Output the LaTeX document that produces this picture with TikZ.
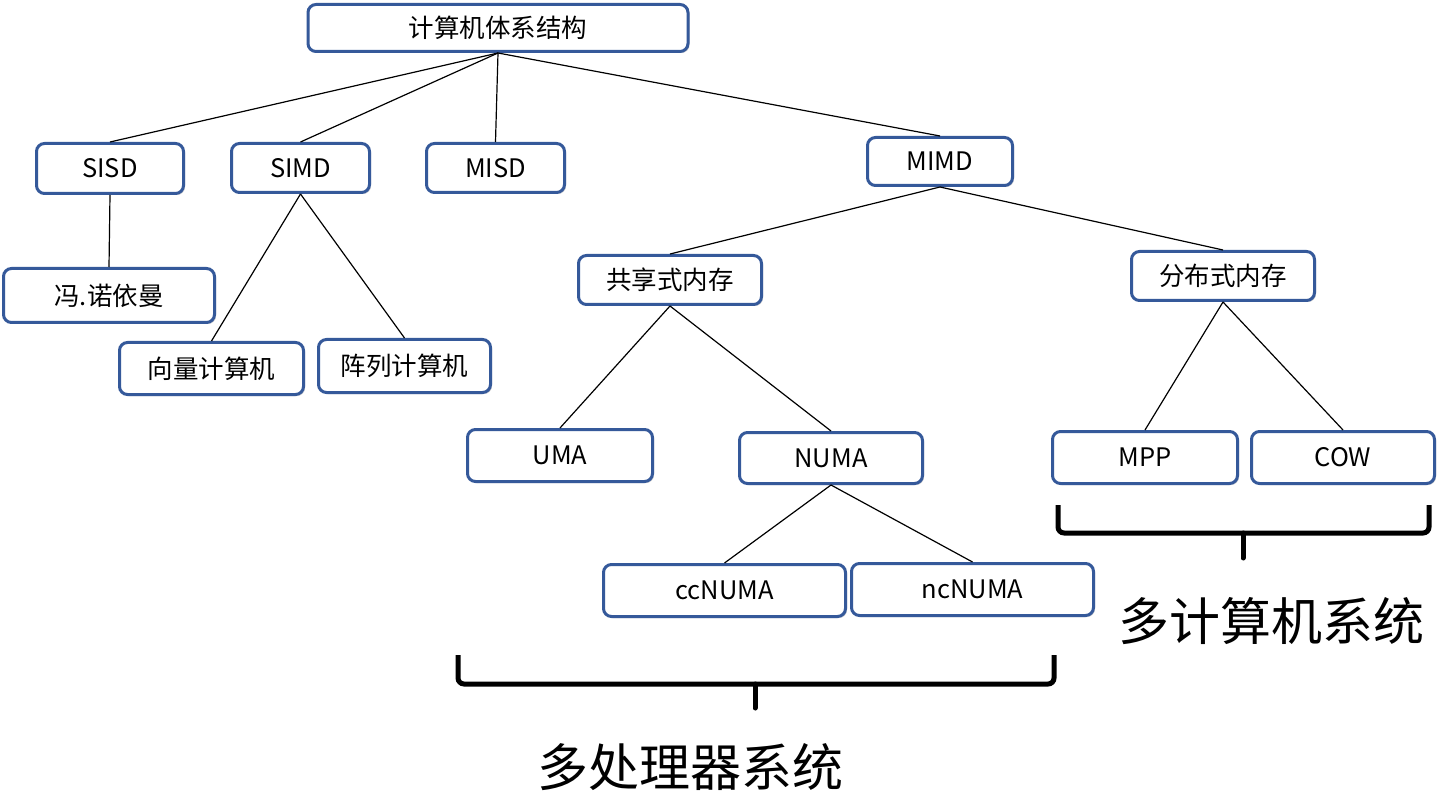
\documentclass[tikz,border=0pt]{standalone}
\usepackage{fontspec}
\setmainfont{Noto Sans CJK SC}
\usetikzlibrary{shadows}
\definecolor{boxblue}{HTML}{35599A}
\tikzset{
  box/.style={draw=boxblue, line width=3pt, rounded corners=8pt, fill=white,
    inner sep=0pt, font=\fontsize{25.5}{30}\selectfont,
    drop shadow={opacity=0.35, shadow xshift=1.5pt, shadow yshift=-1.5pt}},
  sz/.style 2 args={minimum width=#1pt, minimum height=#2pt},
  link/.style={draw=black, line width=1.2pt},
  brace/.style={draw=black, line width=5pt, rounded corners=6pt},
  biglabel/.style={font=\fontsize{51}{55}\selectfont, inner sep=0pt},
}
\begin{document}
\begin{tikzpicture}[x=1pt, y=-1pt]
\useasboundingbox[fill=white] (0,0) rectangle (1441,794);
% nodes
\node[box, sz={380}{47}] (root) at (498,28) {计算机体系结构};
\node[box, sz={147}{50}] (sisd) at (110,168.5) {SISD};
\node[box, sz={138}{49}] (simd) at (300.5,168) {SIMD};
\node[box, sz={138}{49}] (misd) at (495.5,168) {MISD};
\node[box, sz={145}{48}] (mimd) at (940,161.5) {MIMD};
\node[box, sz={211}{54}] (von) at (109,295.5) {冯.诺依曼};
\node[box, sz={184}{52}] (vec) at (211.5,368.5) {向量计算机};
\node[box, sz={172}{53}] (arr) at (404.5,366) {阵列计算机};
\node[box, sz={183}{49}] (shm) at (670,280) {共享式内存};
\node[box, sz={183}{49}] (dsm) at (1223,276) {分布式内存};
\node[box, sz={185}{52}] (uma) at (560,455.5) {UMA};
\node[box, sz={183}{51}] (numa) at (831,458) {NUMA};
\node[box, sz={242}{52}] (cc) at (724.5,590.5) {ccNUMA};
\node[box, sz={242}{52}] (nc) at (972.5,589.5) {ncNUMA};
\node[box, sz={185}{52}] (mpp) at (1145,457.5) {MPP};
\node[box, sz={183}{52}] (cow) at (1343,457.5) {COW};
% connectors
\path[link] (root.south) -- (sisd.north);
\path[link] (root.south) -- (simd.north);
\path[link] (root.south) -- (misd.north);
\path[link] (root.south) -- (mimd.north);
\path[link] (sisd.south) -- (von.north);
\path[link] (simd.south) -- (vec.north);
\path[link] (simd.south) -- (arr.north);
\path[link] (mimd.south) -- (shm.north);
\path[link] (mimd.south) -- (dsm.north);
\path[link] (shm.south) -- (uma.north);
\path[link] (shm.south) -- (numa.north);
\path[link] (numa.south) -- (cc.north);
\path[link] (numa.south) -- (nc.north);
\path[link] (dsm.south) -- (mpp.north);
\path[link] (dsm.south) -- (cow.north);
% braces
\coordinate (b1l) at (458,655);
\coordinate (b1r) at (1054,655);
\coordinate (b1m) at (755,684);
\coordinate (b1t) at (755,708);
\path[brace] (b1l) |- (b1m) -| (b1r);
\path[draw=black, line width=5pt, line cap=round] (b1m) -- (b1t);
\coordinate (b2l) at (1058,505);
\coordinate (b2r) at (1429,505);
\coordinate (b2m) at (1243,533);
\coordinate (b2t) at (1243,558);
\path[brace] (b2l) |- (b2m) -| (b2r);
\path[draw=black, line width=5pt, line cap=round] (b2m) -- (b2t);
% labels
\node[biglabel] (multiproc) at (690,767) {多处理器系统};
\node[biglabel] (multicomp) at (1271,621) {多计算机系统};
\end{tikzpicture}
\end{document}
